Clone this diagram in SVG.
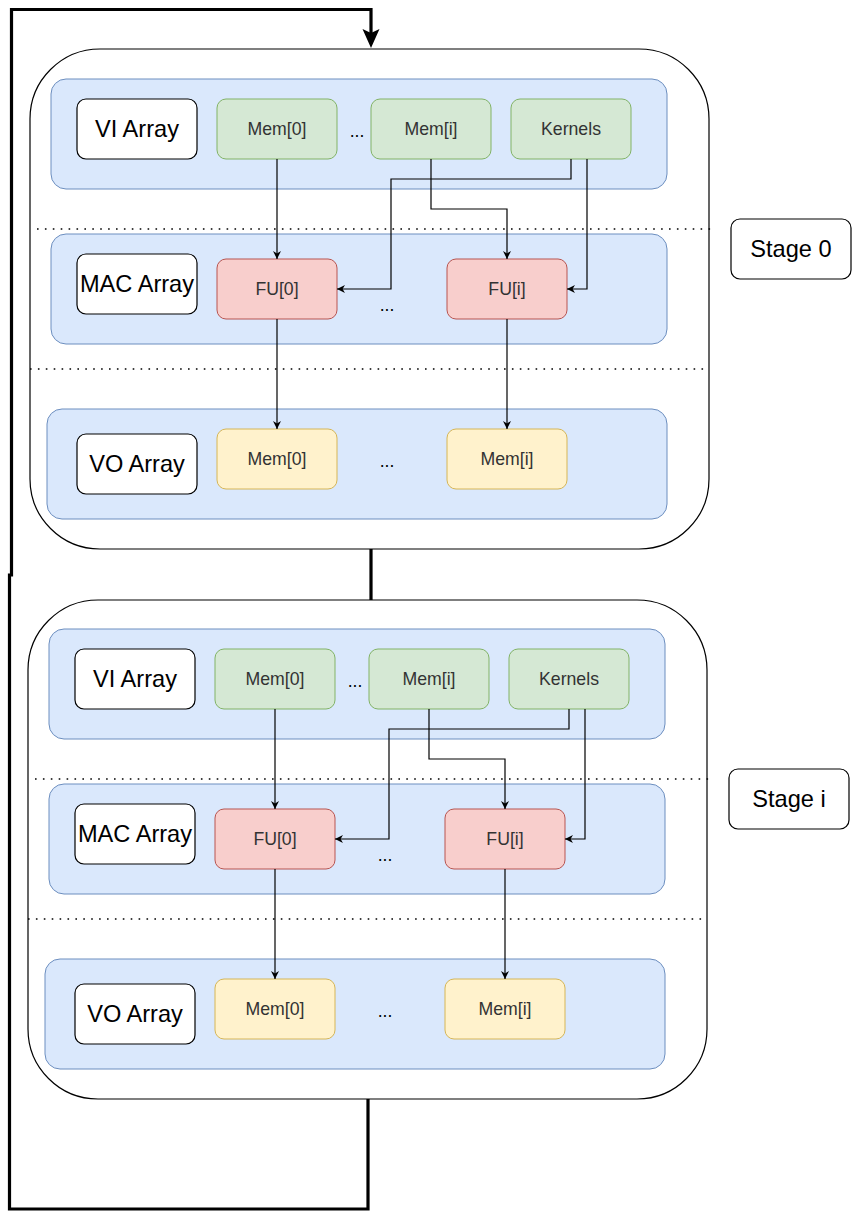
<svg xmlns="http://www.w3.org/2000/svg" width="852" height="1219" viewBox="0 0 852 1219">
<defs>
<style>
.outer{fill:#fff;stroke:#000;stroke-width:1.2}
.row{fill:#dae8fc;stroke:#6c8ebf;stroke-width:1}
.lbl{fill:#fff;stroke:#000;stroke-width:1.2}
.g{fill:#d5e8d4;stroke:#82b366;stroke-width:1}
.r{fill:#f8cecc;stroke:#b85450;stroke-width:1}
.y{fill:#fff2cc;stroke:#d6b656;stroke-width:1}
.big{font-family:"Liberation Sans",Arial,sans-serif;font-size:23.6px;fill:#000;text-anchor:middle;dominant-baseline:central}
.sm{font-family:"Liberation Sans",Arial,sans-serif;font-size:17.7px;fill:#333;text-anchor:middle;dominant-baseline:central}
.dots{font-family:"Liberation Sans",Arial,sans-serif;font-size:17.7px;fill:#000;text-anchor:middle;dominant-baseline:central}
.dl{stroke:#000;stroke-width:1.6;stroke-dasharray:1.6 6.3;fill:none}
.c{fill:none;stroke:#000;stroke-width:1.2}
.thick{fill:none;stroke:#000;stroke-width:3.2}
</style>
<marker id="ah" viewBox="0 0 10 10" refX="10" refY="5" markerWidth="8" markerHeight="8" markerUnits="userSpaceOnUse" orient="auto">
<path d="M0,0 L10,5 L0,10 L3,5 Z" fill="#000"/>
</marker>
</defs>

<g id="stage0">
<rect class="outer" x="30" y="49" width="679" height="500" rx="70" ry="70"/>
<rect class="row" x="51" y="79" width="616" height="110" rx="15"/>
<rect class="row" x="51" y="234" width="616" height="110" rx="15"/>
<rect class="row" x="47" y="409" width="620" height="110" rx="15"/>
<line class="dl" x1="37" y1="229" x2="711" y2="229"/>
<line class="dl" x1="30" y1="369" x2="705" y2="369"/>
</g>
<g id="s0-vi-label"><rect class="lbl" x="77" y="99" width="120" height="60" rx="9"/><text class="big" x="137" y="129">VI Array</text></g>
<g id="s0-vi-mem0"><rect class="g" x="217" y="99" width="120" height="60" rx="9"/><text class="sm" x="277" y="129">Mem[0]</text></g>
<text class="dots" x="357" y="131">...</text>
<g id="s0-vi-memi"><rect class="g" x="371" y="99" width="120" height="60" rx="9"/><text class="sm" x="431" y="129">Mem[i]</text></g>
<g id="s0-kernels"><rect class="g" x="511" y="99" width="120" height="60" rx="9"/><text class="sm" x="571" y="129">Kernels</text></g>
<g id="s0-mac-label"><rect class="lbl" x="77" y="254" width="120" height="60" rx="9"/><text class="big" x="137" y="284">MAC Array</text></g>
<g id="s0-fu0"><rect class="r" x="217" y="259" width="120" height="60" rx="9"/><text class="sm" x="277" y="289">FU[0]</text></g>
<text class="dots" x="387" y="305">...</text>
<g id="s0-fui"><rect class="r" x="447" y="259" width="120" height="60" rx="9"/><text class="sm" x="507" y="289">FU[i]</text></g>
<g id="s0-vo-label"><rect class="lbl" x="77" y="434" width="120" height="60" rx="9"/><text class="big" x="137" y="464">VO Array</text></g>
<g id="s0-vo-mem0"><rect class="y" x="217" y="429" width="120" height="60" rx="9"/><text class="sm" x="277" y="459">Mem[0]</text></g>
<text class="dots" x="387" y="461">...</text>
<g id="s0-vo-memi"><rect class="y" x="447" y="429" width="120" height="60" rx="9"/><text class="sm" x="507" y="459">Mem[i]</text></g>
<g id="stage0-label"><rect class="lbl" x="731" y="219" width="120" height="60" rx="9"/><text class="big" x="791" y="249">Stage 0</text></g>

<g id="stagei">
<rect class="outer" x="28" y="600" width="679" height="499" rx="70" ry="70"/>
<rect class="row" x="49" y="629" width="616" height="110" rx="15"/>
<rect class="row" x="49" y="784" width="616" height="110" rx="15"/>
<rect class="row" x="45" y="959" width="620" height="110" rx="15"/>
<line class="dl" x1="35" y1="779" x2="709" y2="779"/>
<line class="dl" x1="28" y1="919" x2="703" y2="919"/>
</g>
<g id="si-vi-label"><rect class="lbl" x="75" y="649" width="120" height="60" rx="9"/><text class="big" x="135" y="679">VI Array</text></g>
<g id="si-vi-mem0"><rect class="g" x="215" y="649" width="120" height="60" rx="9"/><text class="sm" x="275" y="679">Mem[0]</text></g>
<text class="dots" x="355" y="681">...</text>
<g id="si-vi-memi"><rect class="g" x="369" y="649" width="120" height="60" rx="9"/><text class="sm" x="429" y="679">Mem[i]</text></g>
<g id="si-kernels"><rect class="g" x="509" y="649" width="120" height="60" rx="9"/><text class="sm" x="569" y="679">Kernels</text></g>
<g id="si-mac-label"><rect class="lbl" x="75" y="804" width="120" height="60" rx="9"/><text class="big" x="135" y="834">MAC Array</text></g>
<g id="si-fu0"><rect class="r" x="215" y="809" width="120" height="60" rx="9"/><text class="sm" x="275" y="839">FU[0]</text></g>
<text class="dots" x="385" y="855">...</text>
<g id="si-fui"><rect class="r" x="445" y="809" width="120" height="60" rx="9"/><text class="sm" x="505" y="839">FU[i]</text></g>
<g id="si-vo-label"><rect class="lbl" x="75" y="984" width="120" height="60" rx="9"/><text class="big" x="135" y="1014">VO Array</text></g>
<g id="si-vo-mem0"><rect class="y" x="215" y="979" width="120" height="60" rx="9"/><text class="sm" x="275" y="1009">Mem[0]</text></g>
<text class="dots" x="385" y="1011">...</text>
<g id="si-vo-memi"><rect class="y" x="445" y="979" width="120" height="60" rx="9"/><text class="sm" x="505" y="1009">Mem[i]</text></g>
<g id="stagei-label"><rect class="lbl" x="729" y="769" width="120" height="60" rx="9"/><text class="big" x="789" y="799">Stage i</text></g>

<g id="connectors">
<path class="c" d="M277 159 V259" marker-end="url(#ah)"/>
<path class="c" d="M431 159 V209 H507 V259" marker-end="url(#ah)"/>
<path class="c" d="M571 159 V179 H391 V289 H337" marker-end="url(#ah)"/>
<path class="c" d="M587 159 V289 H567" marker-end="url(#ah)"/>
<path class="c" d="M277 319 V429" marker-end="url(#ah)"/>
<path class="c" d="M507 319 V429" marker-end="url(#ah)"/>
<path class="c" d="M275 709 V809" marker-end="url(#ah)"/>
<path class="c" d="M429 709 V759 H505 V809" marker-end="url(#ah)"/>
<path class="c" d="M569 709 V729 H389 V839 H335" marker-end="url(#ah)"/>
<path class="c" d="M585 709 V839 H565" marker-end="url(#ah)"/>
<path class="c" d="M275 869 V979" marker-end="url(#ah)"/>
<path class="c" d="M505 869 V979" marker-end="url(#ah)"/>
<path class="thick" d="M371 549 V600"/>
<path class="thick" d="M368 1099 V1209 H9.5 V575 H11.5 V9.5 H371 V33"/>
<path d="M371 48 L362.5 29 L371 33 L379.5 29 Z" fill="#000"/>
</g>
</svg>
